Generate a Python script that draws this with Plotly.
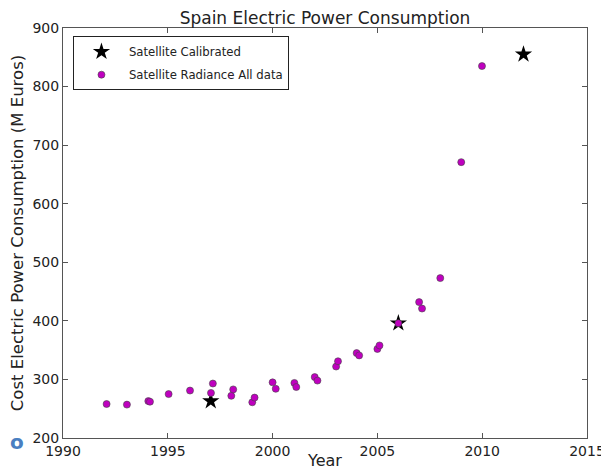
import plotly.graph_objects as go

# Satellite calibrated (stars)
cal_years = [1997.05, 2006.0, 2011.97]
cal_values = [263, 396, 855]

# Satellite radiance, all data (dots)
rad_years = [1992.08, 1993.05, 1994.07, 1994.15, 1995.04, 1996.06, 1997.06, 1997.15,
             1998.03, 1998.12, 1999.03, 1999.14, 2000.0, 2000.15, 2001.04, 2001.13,
             2002.01, 2002.14, 2003.03, 2003.12, 2004.01, 2004.13, 2005.0, 2005.1,
             2006.0, 2006.99, 2007.13, 2008.0, 2009.0, 2009.99]
rad_values = [258, 257, 263, 262, 275, 281, 277, 293,
              272, 283, 261, 269, 295, 284, 294, 287,
              304, 298, 322, 331, 345, 341, 352, 358,
              396, 432, 421, 473, 671, 835]

x_ticks = [1990, 1995, 2000, 2005, 2010, 2015]
y_ticks = [200, 300, 400, 500, 600, 700, 800, 900]

FONT = "DejaVu Sans"
TXT = "#222222"

fig = go.Figure()
fig.add_trace(go.Scatter(
    x=cal_years, y=cal_values, mode="markers", name="Satellite Calibrated",
    legendgroup="a",
    marker=dict(symbol="star", size=13, color="black", line=dict(width=0)),
))
fig.add_trace(go.Scatter(
    x=rad_years, y=rad_values, mode="markers", name="Satellite Radiance All data",
    legendgroup="b",
    marker=dict(symbol="circle", size=7, color="#bf00bf",
                line=dict(width=0.6, color="#444444")),
))

axis_common = dict(
    showgrid=False, zeroline=False, showline=True, linecolor="#555555", linewidth=1,
    mirror="ticks", ticks="inside", ticklen=5, tickcolor="#555555", automargin=False,
    tickfont=dict(family=FONT, size=14, color=TXT),
)

# the page body adds an 8px offset, so the figure is 601x462 to fill the 609x470 window
fig.update_layout(
    width=601, height=462,
    margin=dict(l=55, r=22, t=20, b=31.5),
    paper_bgcolor="white", plot_bgcolor="white",
    font=dict(family=FONT, color=TXT),
    title=dict(text="Spain Electric Power Consumption", x=0.5, xref="paper",
               y=1.0, yref="paper", yanchor="bottom", pad=dict(b=4), automargin=False,
               font=dict(family=FONT, size=17, color=TXT)),
    xaxis=dict(range=[1990, 2015], tickvals=x_ticks, ticktext=[str(v) for v in x_ticks],
               title=dict(text="Year", standoff=4, font=dict(family=FONT, size=16, color=TXT)),
               **axis_common),
    yaxis=dict(range=[200, 900], tickvals=y_ticks, ticktext=[str(v) for v in y_ticks],
               title=dict(text="Cost Electric Power Consumption (M Euros)", standoff=4,
                          font=dict(family=FONT, size=16.5, color=TXT)),
               **axis_common),
    legend=dict(x=0.019, y=0.98, xanchor="left", yanchor="top",
                bgcolor="white", bordercolor=TXT, borderwidth=1,
                font=dict(family=FONT, size=11.7, color=TXT),
                itemsizing="trace", itemwidth=45, traceorder="grouped",
                tracegroupgap=4),
    showlegend=True,
)

fig.add_annotation(text="<b>o</b>", xref="paper", yref="paper", x=-55 / 523.6, y=-0.009,
                   xanchor="left", yanchor="middle", showarrow=False,
                   font=dict(family=FONT, size=20, color="#4a7fc1"))

fig.write_html("out.html")
